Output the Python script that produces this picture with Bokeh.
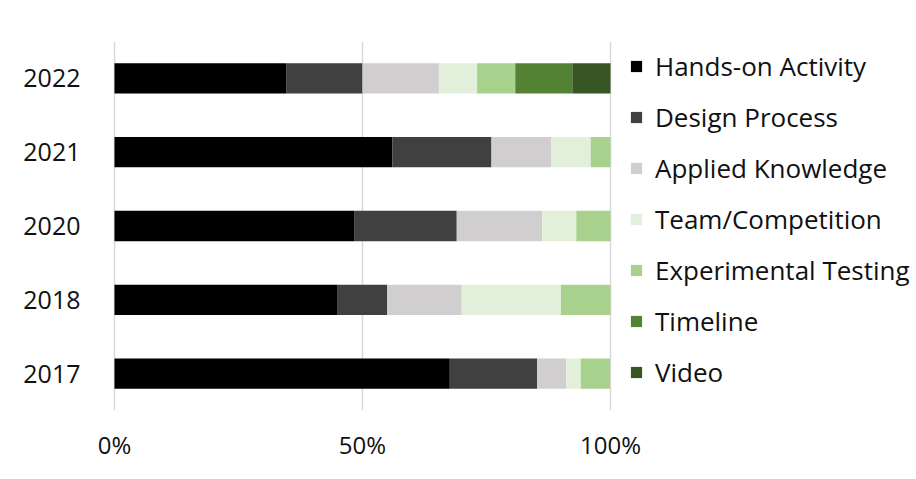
from bokeh.plotting import figure
from bokeh.models import FactorRange, Range1d, FixedTicker, Legend, LegendItem, ColumnDataSource
from bokeh.embed import file_html
from bokeh.resources import INLINE

years = ["2017", "2018", "2020", "2021", "2022"]
categories = ["Hands-on Activity", "Design Process", "Applied Knowledge",
              "Team/Competition", "Experimental Testing", "Timeline", "Video"]
hands_on = [67.6, 45.0, 48.3, 56.0, 34.6]
design = [17.6, 10.0, 20.7, 20.0, 15.4]
applied = [5.9, 15.0, 17.2, 12.0, 15.4]
team = [2.9, 20.0, 6.9, 8.0, 7.7]
experimental = [5.9, 10.0, 6.9, 4.0, 7.7]
timeline = [0.0, 0.0, 0.0, 0.0, 11.5]
video = [0.0, 0.0, 0.0, 0.0, 7.7]
colors = ["#000000", "#404040", "#d0cece", "#e2efda", "#a9d18e", "#548235", "#375623"]
x_ticks = [0, 50, 100]
x_tick_labels = ["0%", "50%", "100%"]

keys = ["hands", "design", "applied", "team", "exp", "timeline", "video"]
src = ColumnDataSource(dict(years=years, hands=hands_on, design=design, applied=applied,
                            team=team, exp=experimental, timeline=timeline, video=video))

FONT = "Open Sans"
p = figure(y_range=FactorRange(*years), x_range=Range1d(-0.4, 100.4),
           frame_width=500, frame_height=369,
           min_border_left=112, min_border_right=10, min_border_top=41, min_border_bottom=55,
           output_backend="svg", toolbar_location=None)

renderers = p.hbar_stack(keys, y="years", height=0.41, color=colors, source=src, line_color=None)

p.xgrid.ticker = FixedTicker(ticks=x_ticks)
p.xgrid.grid_line_color = "#d9d9d9"
p.xgrid.grid_line_width = 1.5
p.ygrid.grid_line_color = None
p.outline_line_color = None

p.xaxis.ticker = FixedTicker(ticks=x_ticks)
p.xaxis.major_label_overrides = {t: l for t, l in zip(x_ticks, x_tick_labels)}
for ax in (p.xaxis, p.yaxis):
    ax.axis_line_color = None
    ax.major_tick_line_color = None
    ax.minor_tick_line_color = None
    ax.major_label_text_font = FONT
    ax.major_label_text_color = "#111111"
p.xaxis.major_label_text_font_size = "24px"
p.yaxis.major_label_text_font_size = "25px"
p.xaxis.major_label_standoff = 11
p.yaxis.major_label_standoff = 26

legend = Legend(items=[LegendItem(label=c, renderers=[r]) for c, r in zip(categories, renderers)],
                location=(17, 20), orientation="vertical",
                glyph_width=14, glyph_height=14, label_standoff=12,
                label_text_font=FONT, label_text_font_size="26px", label_text_color="#111111",
                label_height=20, spacing=15, padding=0, margin=0,
                border_line_color=None, background_fill_alpha=0)
p.add_layout(legend, "right")

open("out.html", "w").write(file_html(p, INLINE))
